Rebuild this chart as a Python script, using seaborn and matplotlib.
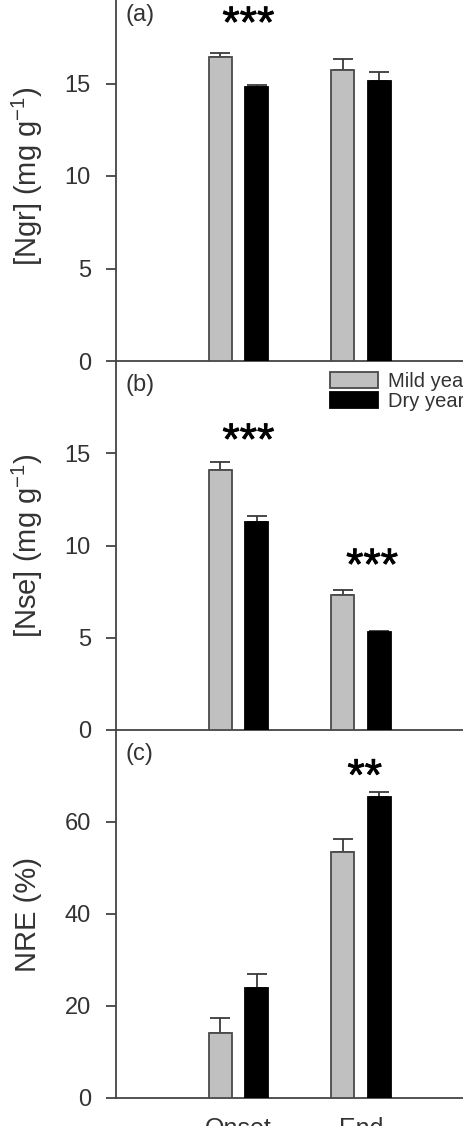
import numpy as np
import pandas as pd
import matplotlib
matplotlib.use("Agg")
import matplotlib.pyplot as plt
import matplotlib.patheffects as pe
from matplotlib.patches import Patch
import seaborn as sns

stages = ["Onset", "End"]
years = ["Mild year", "Dry year"]

ngr_mild = [16.45, 15.75]
ngr_mild_se = [0.2, 0.55]
ngr_dry = [14.8, 15.15]
ngr_dry_se = [0.1, 0.45]

nse_mild = [14.1, 7.3]
nse_mild_se = [0.4, 0.3]
nse_dry = [11.25, 5.3]
nse_dry_se = [0.35, 0.05]

nre_mild = [14.2, 53.4]
nre_mild_se = [3.3, 2.9]
nre_dry = [23.9, 65.4]
nre_dry_se = [3.1, 1.1]

sns.set_style("ticks")
plt.rcParams['font.family'] = ['Liberation Sans', 'DejaVu Sans']
plt.rcParams['mathtext.fontset'] = 'custom'
plt.rcParams['mathtext.rm'] = 'Liberation Sans'
plt.rcParams['mathtext.it'] = 'Liberation Sans'

ink = "#333333"
colors = {"Mild year": "#c0c0c0", "Dry year": "#000000"}
edges = {"Mild year": "#4a4a4a", "Dry year": "#000000"}

panels = [
    dict(mild=ngr_mild, mild_se=ngr_mild_se, dry=ngr_dry, dry_se=ngr_dry_se,
         ylabel=r"[Ngr] (mg g$^{\mathregular{-1}}$)", ylim=(0, 20), yticks=[0, 5, 10, 15, 20], tag="(a)",
         stars=[("***", 0.08, 17.5)]),
    dict(mild=nse_mild, mild_se=nse_mild_se, dry=nse_dry, dry_se=nse_dry_se,
         ylabel=r"[Nse] (mg g$^{\mathregular{-1}}$)", ylim=(0, 20), yticks=[0, 5, 10, 15], tag="(b)",
         stars=[("***", 0.08, 14.95), ("***", 1.09, 8.17)]),
    dict(mild=nre_mild, mild_se=nre_mild_se, dry=nre_dry, dry_se=nre_dry_se,
         ylabel="NRE (%)", ylim=(0, 80), yticks=[0, 20, 40, 60], tag="(c)",
         stars=[("**", 1.03, 67.0)]),
]

fig = plt.figure(figsize=(4.64, 11.26), dpi=100)
H = 1126.0
bounds = [(-9, 361), (361, 730), (730, 1098)]

for i, (p, (top, bot)) in enumerate(zip(panels, bounds)):
    ax = fig.add_axes([116 / 464, 1 - bot / H, 367.5 / 464, (bot - top) / H])
    df = pd.DataFrame({
        "stage": stages * 2,
        "year": [years[0]] * 2 + [years[1]] * 2,
        "value": list(p["mild"]) + list(p["dry"]),
    })
    sns.barplot(data=df, x="stage", y="value", hue="year", order=stages, hue_order=years,
                palette=colors, width=0.6, gap=0.37, errorbar=None, legend=False,
                linewidth=1.3, zorder=3, ax=ax)
    ses = [p["mild_se"], p["dry_se"]]
    for cont, yr, se in zip(ax.containers, years, ses):
        xs = [b.get_x() + b.get_width() / 2 for b in cont]
        hs = [b.get_height() for b in cont]
        for b in cont:
            b.set_edgecolor(edges[yr])
        ax.errorbar(xs, hs, yerr=[np.zeros(len(se)), se], fmt="none",
                    ecolor="#3a3a3a", elinewidth=1.3, capsize=7.5, capthick=1.3, zorder=2)
    ax.set_xlim(-1, 2)
    ax.set_ylim(*p["ylim"])
    ax.set_yticks(p["yticks"])
    ax.set_xlabel("")
    ax.set_ylabel(p["ylabel"], fontsize=21, color=ink, va="center")
    ax.yaxis.set_label_coords(-0.24, 0.5)
    sns.despine(ax=ax, top=True, right=True)
    for s in ["left", "bottom"]:
        ax.spines[s].set_linewidth(1.3)
        ax.spines[s].set_color("#444444")
    ax.tick_params(axis="y", length=7, width=1.3, color="#444444", pad=11,
                   labelsize=17, labelcolor=ink)
    ax.tick_params(axis="x", length=0, pad=14, labelsize=18, labelcolor=ink)
    if i < 2:
        ax.set_xticklabels([])
    ax.text(0.025, 1 - 13 / (bot - top), p["tag"], transform=ax.transAxes,
            fontsize=17, color=ink, ha="left", va="top")
    for txt, xs, ys in p["stars"]:
        ax.text(xs, ys, txt, fontsize=32, color="black", ha="center", va="baseline",
                path_effects=[pe.withStroke(linewidth=0.6, foreground="black")])
    ax.patch.set_alpha(0)
    if i == 1:
        handles = [Patch(facecolor=colors[y], edgecolor=edges[y], linewidth=1.3) for y in years]
        fig.legend(handles, years, loc="upper left", bbox_to_anchor=(330 / 464, 1 - 372 / H),
                   frameon=False, fontsize=14.5, borderpad=0, borderaxespad=0,
                   handlelength=2.4, handleheight=0.85, handletextpad=0.5,
                   labelspacing=0.05, labelcolor=ink)

fig.savefig("out.png", dpi=100)
